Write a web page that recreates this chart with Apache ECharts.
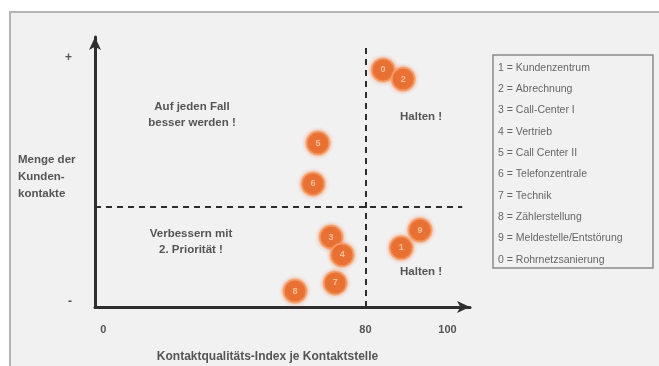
<!DOCTYPE html>
<html>
<head>
<meta charset="utf-8">
<script src="https://cdn.jsdelivr.net/npm/echarts@6/dist/echarts.min.js"></script>
<style>
  html, body { margin: 0; padding: 0; background: #fff; }
  #chart { width: 659px; height: 366px; }
</style>
</head>
<body>
<div id="chart"></div>
<script>
// Kontaktstellen (Nummer, x = Kontaktqualitäts-Index, y = Menge der Kundenkontakte)
var pointNames = ['0', '2', '5', '6', '3', '4', '7', '8', '9', '1'];
var pointX = [84.3, 89.2, 68.4, 67.2, 71.6, 74.3, 72.6, 62.8, 93.3, 88.7];
var pointY = [87.8, 84.4, 60.7, 45.6, 25.9, 19.3, 8.9, 5.9, 28.5, 21.9];

// Achsenbeschriftung (schematisch)
var xTickValues = [16, 80, 100];
var xTickNames = ['0', '80', '100'];
var yTickValues = [1.9, 92.2];
var yTickNames = ['-', '+'];

var xSplit = 80;
var ySplit = 37;

var legendItems = [
  '1 = Kundenzentrum',
  '2 = Abrechnung',
  '3 = Call-Center I',
  '4 = Vertrieb',
  '5 = Call Center II',
  '6 = Telefonzentrale',
  '7 = Technik',
  '8 = Zählerstellung',
  '9 = Meldestelle/Entstörung',
  '0 = Rohrnetzsanierung'
];

var textColor = '#555';
var font = 'Liberation Sans, Arial, sans-serif';
var labelFont = 'bold 11.5px ' + font;

var scatterData = pointX.map(function (x, i) {
  return { name: pointNames[i], value: [x, pointY[i]] };
});

var graphics = [
  {
    type: 'rect', z: -10, silent: true,
    shape: { x: 10, y: 12, width: 660, height: 370 },
    style: { fill: '#f2f1f2', stroke: '#b4b4b4', lineWidth: 2 }
  },
  {
    type: 'rect', silent: true,
    shape: { x: 493, y: 55, width: 160, height: 213 },
    style: { fill: '#f2f1f2', stroke: '#8a8a8a', lineWidth: 1.5 }
  },
  {
    type: 'text', x: 18, y: 177,
    style: { text: 'Menge der\nKunden-\nkontakte', fill: textColor, font: labelFont, lineHeight: 17, verticalAlign: 'middle' }
  },
  {
    type: 'text', x: 192, y: 115,
    style: { text: 'Auf jeden Fall\nbesser werden !', fill: textColor, font: labelFont, align: 'center', verticalAlign: 'middle', lineHeight: 16 }
  },
  {
    type: 'text', x: 191, y: 242,
    style: { text: 'Verbessern mit\n2. Priorität !', fill: textColor, font: labelFont, align: 'center', verticalAlign: 'middle', lineHeight: 16 }
  },
  {
    type: 'text', x: 400, y: 117,
    style: { text: 'Halten !', fill: textColor, font: labelFont, verticalAlign: 'middle' }
  },
  {
    type: 'text', x: 400, y: 272,
    style: { text: 'Halten !', fill: textColor, font: labelFont, verticalAlign: 'middle' }
  }
];

legendItems.forEach(function (t, i) {
  graphics.push({
    type: 'text', x: 498, y: 68 + i * 21.3,
    style: { text: t, fill: '#666', font: '10.5px ' + font, verticalAlign: 'middle' }
  });
});

var chart = echarts.init(document.getElementById('chart'));
chart.setOption({
  animation: false,
  backgroundColor: '#ffffff',
  grid: { left: 95, right: 189, top: 37, bottom: 59, outerBoundsMode: 'none', containLabel: false },
  graphic: graphics,
  xAxis: {
    type: 'value',
    min: 14,
    max: 105.5,
    name: 'Kontaktqualitäts-Index je Kontaktstelle',
    nameLocation: 'middle',
    nameGap: 44,
    nameTextStyle: { color: textColor, fontSize: 12, fontWeight: 'bold', fontFamily: font, padding: [0, 30, 0, 0] },
    splitLine: { show: false },
    axisTick: { show: false },
    axisLine: {
      onZero: false,
      symbol: ['none', 'arrow'],
      symbolSize: [9, 13],
      lineStyle: { color: '#2e2e2e', width: 3 }
    },
    axisLabel: {
      customValues: xTickValues,
      margin: 17,
      color: textColor,
      fontSize: 11,
      fontWeight: 'bold',
      fontFamily: font,
      formatter: function (v) {
        var i = xTickValues.indexOf(v);
        return i >= 0 ? xTickNames[i] : '';
      }
    }
  },
  yAxis: {
    type: 'value',
    min: 0,
    max: 100,
    splitLine: { show: false },
    axisTick: { show: false },
    axisLine: {
      onZero: false,
      symbol: ['none', 'arrow'],
      symbolSize: [9, 13],
      lineStyle: { color: '#2e2e2e', width: 3 }
    },
    axisLabel: {
      customValues: yTickValues,
      margin: 23,
      color: textColor,
      fontSize: 12,
      fontWeight: 'bold',
      fontFamily: font,
      formatter: function (v) {
        var i = yTickValues.indexOf(v);
        return i >= 0 ? yTickNames[i] : '';
      }
    }
  },
  series: [
    {
      type: 'scatter',
      data: scatterData,
      symbolSize: 23,
      itemStyle: {
        color: '#e65f19',
        borderColor: '#f6a06a',
        borderWidth: 2,
        shadowBlur: 4,
        shadowColor: 'rgba(240,120,60,0.6)'
      },
      label: {
        show: true,
        position: 'inside',
        formatter: '{b}',
        color: '#fcd2b4',
        fontSize: 9,
        fontWeight: 'bold',
        fontFamily: font
      },
      markLine: {
        silent: true,
        symbol: 'none',
        label: { show: false },
        lineStyle: { color: '#2e2e2e', type: [6, 5], width: 2 },
        data: [
          [{ coord: [xSplit, 0] }, { coord: [xSplit, 97] }],
          [{ coord: [14, ySplit] }, { coord: [103.6, ySplit] }]
        ]
      }
    }
  ]
});
</script>
</body>
</html>
